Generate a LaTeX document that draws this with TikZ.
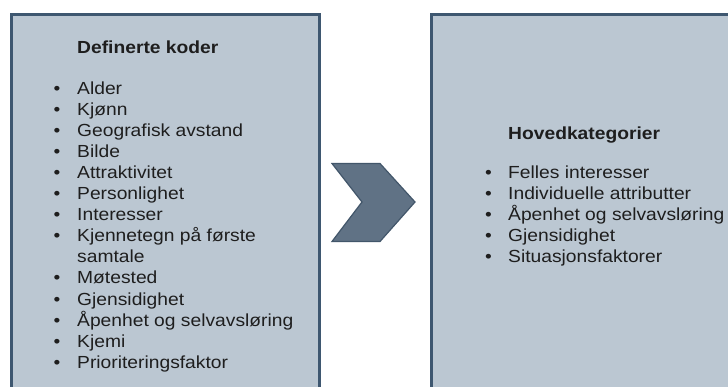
\documentclass[tikz,border=0pt]{standalone}
\usepackage{fontspec}
\setmainfont{Liberation Sans}[FakeStretch=1.1]
\definecolor{boxfill}{RGB}{187,199,210}
\definecolor{boxline}{RGB}{62,87,112}
\definecolor{chevfill}{RGB}{96,114,133}
\definecolor{chevline}{RGB}{66,86,106}
\definecolor{txt}{RGB}{30,30,30}
\tikzset{
  panel/.style={draw=boxline, fill=boxfill, line width=2.5pt},
  chev/.style={draw=chevline, fill=chevfill, line width=1.2pt, line join=miter},
  lbl/.style={anchor=base west, inner sep=0pt, text=txt, font=\fontsize{17.5}{21}\selectfont},
  ttl/.style={lbl, font=\fontsize{17.5}{21}\selectfont\bfseries},
  bul/.style={anchor=base, inner sep=0pt, text=txt, font=\fontsize{17.5}{21}\selectfont}
}
\begin{document}
\begin{tikzpicture}[x=1pt,y=-1pt]
\useasboundingbox (0,0) rectangle (728,386);
\clip (0,0) rectangle (728,386);
\fill[white] (0,0) rectangle (728,386);
% panels
\node[panel, minimum width=308pt, minimum height=390pt, anchor=north west, inner sep=0pt] (left) at (10,13) {};
\node[panel, minimum width=310pt, minimum height=390pt, anchor=north west, inner sep=0pt] (right) at (430,13) {};
% chevron
\draw[chev] (332,163.5) coordinate (c1) -- (380,163.5) -- (415,202) -- (380,241.5) -- (332,241.5) -- (362,202) -- cycle;
% left text
\node[ttl] (lt) at (77,53.5) {Definerte koder};
\foreach \t [count=\i from 0] in {Alder,Kjønn,Geografisk avstand,Bilde,Attraktivitet,Personlighet,Interesser,Kjennetegn på første,samtale,Møtested,Gjensidighet,Åpenhet og selvavsløring,Kjemi,Prioriteringsfaktor}{
  \node[lbl] (l\i) at (77,94+21.1*\i) {\t};
}
\foreach \i in {0,1,2,3,4,5,6,7,9,10,11,12,13}{
  \node[bul] (lb\i) at (57,94+21.1*\i) {•};
}
% right text
\node[ttl] (rt) at (508,139) {Hovedkategorier};
\foreach \t [count=\i from 0] in {Felles interesser,Individuelle attributter,Åpenhet og selvavsløring,Gjensidighet,Situasjonsfaktorer}{
  \node[lbl] (r\i) at (508,178.7+21*\i) {\t};
  \node[bul] (rb\i) at (488.5,178.7+21*\i) {•};
}
\end{tikzpicture}
\end{document}
